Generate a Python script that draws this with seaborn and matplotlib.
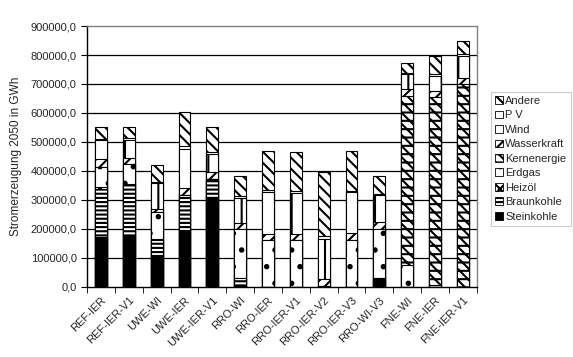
import matplotlib
matplotlib.use("Agg")
import matplotlib.pyplot as plt
import seaborn as sns
import numpy as np
from matplotlib.patches import Patch
from matplotlib.ticker import FuncFormatter, FixedLocator

# Stromerzeugung 2050 in GWh je Szenario
scenarios = ["REF-IER", "REF-IER-V1", "UWE-WI", "UWE-IER", "UWE-IER-V1",
             "RRO-WI", "RRO-IER", "RRO-IER-V1", "RRO-IER-V2", "RRO-IER-V3",
             "RRO-WI-V3", "FNE-WI", "FNE-IER", "FNE-IER-V1"]
steinkohle = [172000, 178000, 108000, 195000, 310000, 5000, 0, 0, 0, 0, 25000, 0, 0, 0]
braunkohle = [167000, 172000, 52000, 112000, 60000, 25000, 0, 0, 0, 0, 5000, 0, 0, 0]
heizoel = [5000, 3000, 3000, 3000, 3000, 0, 0, 0, 0, 0, 0, 0, 0, 0]
erdgas = [69000, 69000, 95000, 5000, 0, 170000, 160000, 162000, 3000, 162000, 170000, 74000, 5000, 0]
kernenergie = [0, 0, 0, 0, 0, 0, 0, 0, 0, 0, 0, 586000, 650000, 700000]
wasserkraft = [27000, 23000, 10000, 25000, 23000, 20000, 23000, 20000, 25000, 22000, 23000, 22000, 22000, 22000]
wind = [65000, 63000, 90000, 137000, 63000, 87000, 144000, 142000, 138000, 142000, 92000, 52000, 52000, 75000]
pv = [6000, 5000, 5000, 10000, 6000, 5000, 6000, 6000, 8000, 6000, 5000, 5000, 5000, 8000]
andere = [42000, 40000, 57000, 115000, 85000, 70000, 135000, 135000, 222000, 136000, 63000, 33000, 62000, 42000]

# bottom -> top: (label, values, facecolor, hatch)
series = [
    ("Steinkohle", steinkohle, "black", None),
    ("Braunkohle", braunkohle, "white", "----"),
    ("Heizöl", heizoel, "white", "xxx"),
    ("Erdgas", erdgas, "white", "."),
    ("Kernenergie", kernenergie, "white", "\\\\\\--"),
    ("Wasserkraft", wasserkraft, "white", "///"),
    ("Wind", wind, "white", "|"),
    ("P V", pv, "white", None),
    ("Andere", andere, "white", "\\\\\\"),
]

sns.set_style("white")
plt.rcParams["font.family"] = ["Liberation Sans", "DejaVu Sans"]
plt.rcParams["hatch.color"] = "black"
plt.rcParams["hatch.linewidth"] = 1.5

fig = plt.figure(figsize=(5.73, 3.57), dpi=100)
ax = fig.add_axes([0.152, 0.197, 0.68, 0.73])

cum = np.cumsum([np.array(s[1], dtype=float) for s in series], axis=0)
# draw from the top of the stack down so lower segments cover the upper bars
for i in range(len(series) - 1, -1, -1):
    label, _, fc, hatch = series[i]
    sns.barplot(x=scenarios, y=cum[i], color=fc, saturation=1, width=0.43,
                edgecolor="black", linewidth=0.8, hatch=hatch, ax=ax)

ax.set_ylim(0, 900000)
ax.set_xlim(-0.5, len(scenarios) - 0.5)
ax.set_yticks(np.arange(0, 900001, 100000))
ax.yaxis.set_major_formatter(FuncFormatter(lambda v, p: f"{v:.1f}".replace(".", ",")))
ax.yaxis.grid(True, color="black", linewidth=0.9)
ax.set_axisbelow(True)
gl = ax.get_ygridlines()
gl[0].set_visible(False)
gl[-1].set_visible(False)

ax.set_xticks(range(len(scenarios)))
ax.set_xticklabels(scenarios, rotation=45, ha="right", rotation_mode="anchor", fontsize=8)
ax.xaxis.set_minor_locator(FixedLocator(np.arange(-0.5, len(scenarios), 1)))
ax.tick_params(axis="x", which="major", length=0, pad=6)
ax.tick_params(axis="x", which="minor", length=4, direction="out", color="black", bottom=True)
ax.tick_params(axis="y", length=4, direction="out", color="black", left=True, labelsize=8)

ax.set_xlabel("")
ax.set_ylabel("Stromerzeugung 2050 in GWh", fontsize=8.5, labelpad=6)

for side in ["left", "bottom"]:
    ax.spines[side].set_color("black")
    ax.spines[side].set_linewidth(1)
for side in ["top", "right"]:
    ax.spines[side].set_color("#808080")
    ax.spines[side].set_linewidth(1)

handles = [Patch(facecolor=fc, edgecolor="black", hatch=h, linewidth=0.6, label=lab)
           for lab, _, fc, h in reversed(series)]
leg = fig.legend(handles=handles, loc="upper left", bbox_to_anchor=(485 / 573, 1 - 86 / 357),
                 fontsize=8, handlelength=0.7, handleheight=0.7, handletextpad=0.2,
                 labelspacing=0.4, borderpad=0.4, frameon=True, fancybox=False)
leg.get_frame().set_edgecolor("#c0c0c0")
leg.get_frame().set_linewidth(0.8)

fig.savefig("out.png", dpi=100)
